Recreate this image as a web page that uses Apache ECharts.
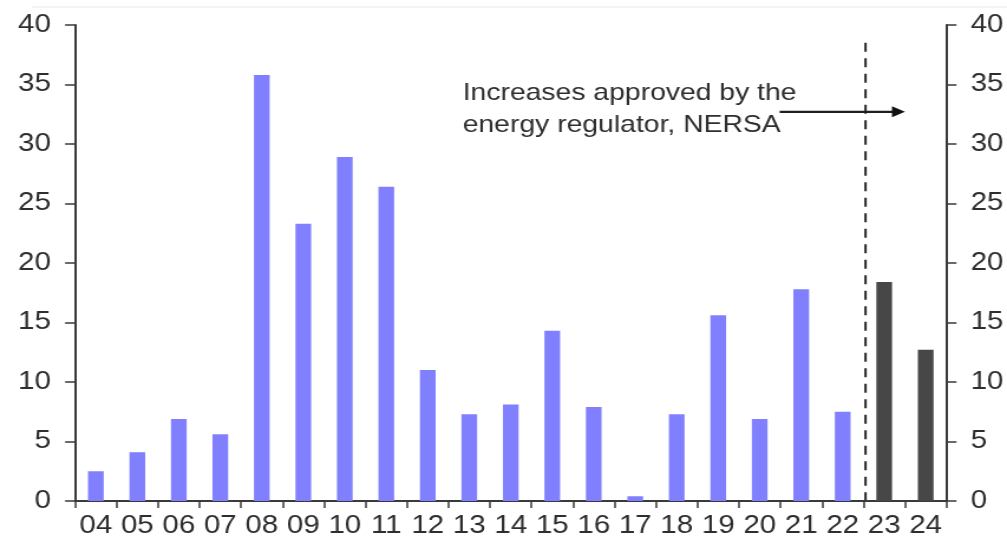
<!DOCTYPE html>
<html><head><meta charset="utf-8">
<script src="https://cdn.jsdelivr.net/npm/echarts@6/dist/echarts.min.js"></script>
<style>
html,body{margin:0;padding:0;background:#fff;overflow:hidden}
#wrap{width:1007px;height:541px;overflow:hidden;position:relative;background:#fff}
#c{width:853px;height:541px;transform:scaleX(1.18054);transform-origin:0 0}
</style></head><body><div id="wrap"><div id="c"></div></div>
<script>
const categories = ['04','05','06','07','08','09','10','11','12','13','14','15','16','17','18','19','20','21','22','23','24'];
const historicValues = [2.5,4.1,6.9,5.6,35.8,23.3,28.9,26.4,11.0,7.3,8.1,14.3,7.9,0.4,7.3,15.6,6.9,17.8,7.5,null,null];
const approvedValues = [null,null,null,null,null,null,null,null,null,null,null,null,null,null,null,null,null,null,null,18.4,12.7];
const yMin = 0, yMax = 40, yInterval = 5;
const annotationLines = ['Increases approved by the','energy regulator, NERSA'];

const FONT = 'Liberation Sans';
const TXT = '#2e2e2e';
const AX = '#3a3a3a';

function yAxisDef(pos){
  return {
    type:'value', position:pos, min:yMin, max:yMax, interval:yInterval,
    axisLine:{show:true, lineStyle:{color:AX, width:2}},
    axisTick:{show:true, inside:false, length:8.5, lineStyle:{color:AX, width:1.5}},
    axisLabel:{margin:20.5, fontFamily:FONT, fontSize:25, color:TXT},
    splitLine:{show:false}
  };
}

const option = {
  animation:false,
  backgroundColor:'#ffffff',
  grid:{left:63.6, right:50.8, top:25, bottom:40, containLabel:false},
  xAxis:{
    type:'category', data:categories, boundaryGap:true,
    axisLine:{show:true, lineStyle:{color:AX, width:2}},
    axisTick:{show:true, inside:false, length:7, alignWithLabel:false, lineStyle:{color:AX, width:1.5}},
    axisLabel:{margin:13, fontFamily:FONT, fontSize:25, color:TXT, interval:0},
    splitLine:{show:false}
  },
  yAxis:[yAxisDef('left'), yAxisDef('right')],
  series:[
    {type:'bar', data:historicValues, barWidth:13.3, barGap:'-100%', itemStyle:{color:'#8080ff'}},
    {type:'bar', data:approvedValues, barWidth:13.3, barGap:'-100%', itemStyle:{color:'#474747'}}
  ]
};

const chart = echarts.init(document.getElementById('c'), null, {renderer:'canvas'});
chart.setOption(option);

function px(idx, v){
  const a = chart.convertToPixel({gridIndex:0}, [0, v]);
  const b = chart.convertToPixel({gridIndex:0}, [1, v]);
  return [a[0] + (b[0]-a[0])*idx, a[1]];
}
const dTop = px(18.55, 38.5), dBot = px(18.55, 0);
const aStart = px(16.48, 32.7), aEnd = px(19.5, 32.7);
const tPos = px(8.84, 35.6);
const headLen = 11, headHalf = 5.5;
const topLeft = px(-1.55, 41.6);

chart.setOption({
  graphic:[
    {type:'line', silent:true, shape:{x1:topLeft[0], y1:7, x2:853, y2:7}, style:{stroke:'#f0f0f0', lineWidth:1.5}},
    {type:'line', silent:true, shape:{x1:dTop[0], y1:dTop[1], x2:dBot[0], y2:dBot[1]},
     style:{stroke:'#2a2a2a', lineWidth:2, lineDash:[9,6.5]}},
    {type:'line', silent:true, shape:{x1:aStart[0], y1:aStart[1], x2:aEnd[0]-headLen+1, y2:aEnd[1]},
     style:{stroke:'#1e1e1e', lineWidth:2.2}},
    {type:'polygon', silent:true, shape:{points:[[aEnd[0],aEnd[1]],[aEnd[0]-headLen,aEnd[1]-headHalf],[aEnd[0]-headLen,aEnd[1]+headHalf]]},
     style:{fill:'#111'}},
    {type:'text', silent:true, x:tPos[0], y:tPos[1],
     style:{text:annotationLines.join('\n'), fontFamily:FONT, fontSize:24, lineHeight:32, fill:TXT, align:'left', verticalAlign:'top'}}
  ]
});
</script></body></html>
